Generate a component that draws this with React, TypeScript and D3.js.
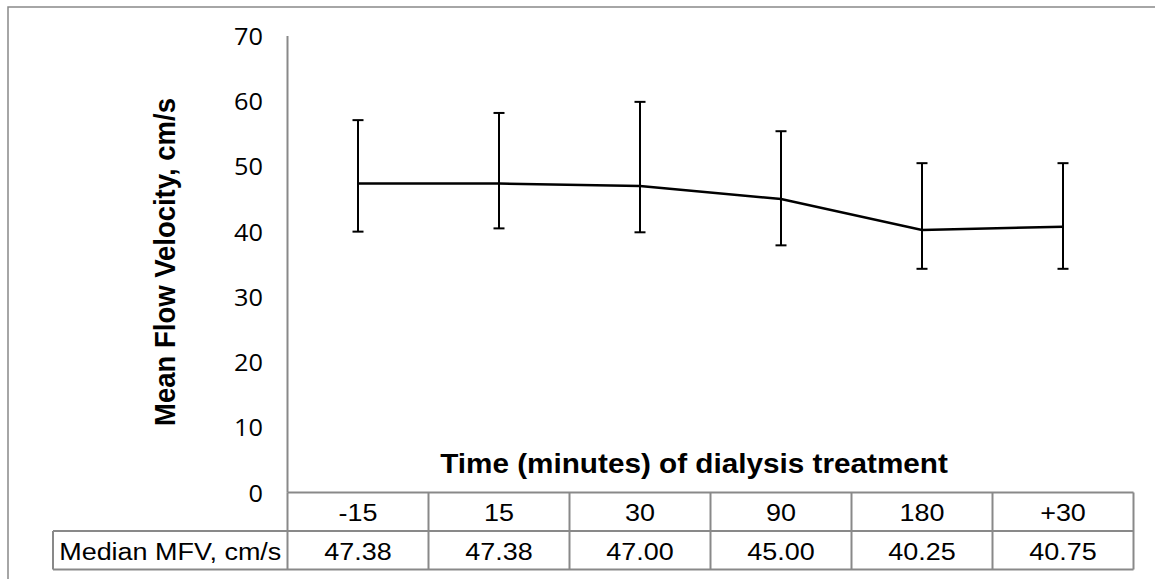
import React from "react";
import * as d3 from "d3";

const categories = ["-15", "15", "30", "90", "180", "+30"];
const medianMFV = [47.38, 47.38, 47.0, 45.0, 40.25, 40.75];
const upperErr = [57.1, 58.2, 59.9, 55.4, 50.5, 50.5];
const lowerErr = [40.0, 40.5, 39.9, 37.9, 34.3, 34.3];
const medianLabels = ["47.38", "47.38", "47.00", "45.00", "40.25", "40.75"];
const yTicks = [0, 10, 20, 30, 40, 50, 60, 70];
const rowLabel = "Median MFV, cm/s";
const yTitle = "Mean Flow Velocity, cm/s";
const xTitle = "Time (minutes) of dialysis treatment";

const W = 1155;
const H = 579;
const S = 1.1; // horizontal stretch of the original picture
const GRID = "#898989";
const ARIAL = "'Liberation Sans', Arial, sans-serif";
const TICKFONT = "'Open Sans', sans-serif";

const plotLeft = 287.5;
const plotRight = 1133.5;
const yTop = 36;
const yZero = 492.5;
const row1Bottom = 531;
const row2Bottom = 569.5;
const tableLeft = 53;

function T({ x, y, children, anchor = "middle", size = 24.5, weight = "normal", family = ARIAL, rotate = 0 }: any) {
  return (
    <text
      transform={`translate(${x},${y}) scale(${S},1)${rotate ? ` rotate(${rotate})` : ""}`}
      textAnchor={anchor}
      dominantBaseline="central"
      fontSize={size}
      fontWeight={weight}
      fontFamily={family}
      fill="#000"
    >
      {children}
    </text>
  );
}

export default function App() {
  const x = d3.scaleBand<string>().domain(categories).range([plotLeft, plotRight]);
  const y = d3.scaleLinear().domain([0, 70]).range([yZero, yTop]);
  const cx = (c: string) => (x(c) as number) + x.bandwidth() / 2;
  const line = d3
    .line<number>()
    .x((_, i) => cx(categories[i]))
    .y((d) => y(d));
  const cap = 5.5;

  return (
    <svg width={W} height={H} style={{ position: "absolute", left: 0, top: 0, background: "#fff" }}>
      <rect x={8} y={7} width={W + 20} height={H + 20} fill="#fff" stroke={GRID} strokeWidth={1.5} />

      {/* y axis */}
      <line x1={plotLeft} x2={plotLeft} y1={yTop} y2={yZero} stroke={GRID} strokeWidth={2} />
      {yTicks.map((t) => (
        <T key={t} x={263} y={y(t)} anchor="end" size={23} family={TICKFONT}>
          {t}
        </T>
      ))}

      {/* y title */}
      <T x={165} y={262} size={27.5} weight="bold" rotate={-90}>
        {yTitle}
      </T>

      {/* x title */}
      <T x={694} y={463} size={27} weight="bold">
        {xTitle}
      </T>

      {/* table */}
      <g stroke={GRID} strokeWidth={2} fill="none">
        <line x1={plotLeft} x2={plotRight} y1={yZero} y2={yZero} />
        <line x1={tableLeft} x2={plotRight} y1={row1Bottom} y2={row1Bottom} />
        <line x1={tableLeft} x2={plotRight} y1={row2Bottom} y2={row2Bottom} />
        <line x1={tableLeft} x2={tableLeft} y1={row1Bottom} y2={row2Bottom} />
        <line x1={plotLeft} x2={plotLeft} y1={yZero} y2={row2Bottom} />
        {categories.map((c) => (
          <line key={c} x1={(x(c) as number) + x.bandwidth()} x2={(x(c) as number) + x.bandwidth()} y1={yZero} y2={row2Bottom} />
        ))}
      </g>
      {categories.map((c, i) => (
        <g key={c}>
          <T x={cx(c)} y={(yZero + row1Bottom) / 2 + 1}>{c}</T>
          <T x={cx(c)} y={(row1Bottom + row2Bottom) / 2 + 1}>{medianLabels[i]}</T>
        </g>
      ))}
      <T x={(tableLeft + plotLeft) / 2} y={(row1Bottom + row2Bottom) / 2 + 1}>{rowLabel}</T>

      {/* error bars */}
      <g stroke="#000" strokeWidth={2}>
        {categories.map((c, i) => (
          <g key={c}>
            <line x1={cx(c)} x2={cx(c)} y1={y(upperErr[i])} y2={y(lowerErr[i])} />
            <line x1={cx(c) - cap} x2={cx(c) + cap} y1={y(upperErr[i])} y2={y(upperErr[i])} />
            <line x1={cx(c) - cap} x2={cx(c) + cap} y1={y(lowerErr[i])} y2={y(lowerErr[i])} />
          </g>
        ))}
      </g>

      {/* median line */}
      <path d={line(medianMFV) as string} fill="none" stroke="#000" strokeWidth={2.5} />
    </svg>
  );
}
